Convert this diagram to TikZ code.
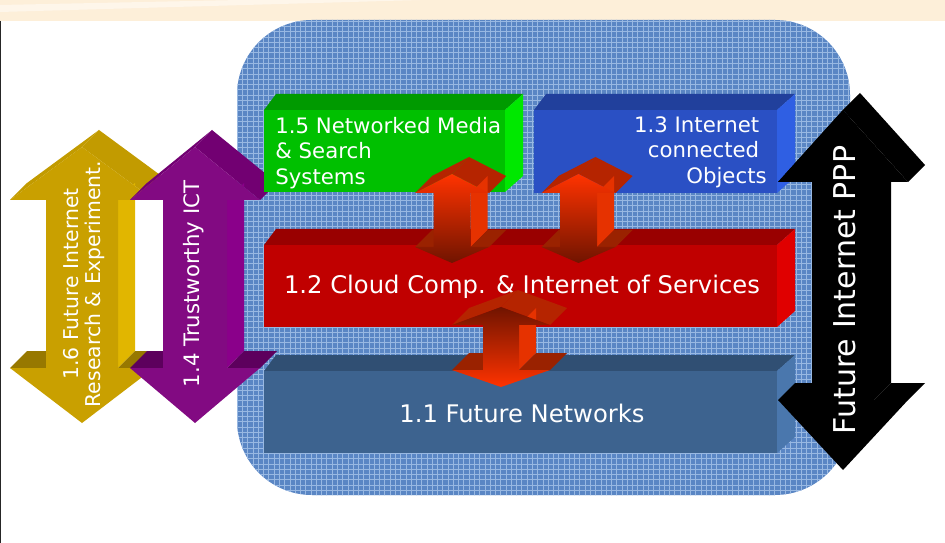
\documentclass[tikz,border=0pt]{standalone}
\usepackage{fontspec}
\setmainfont{DejaVu Sans}
\usepackage{tikz}
\usetikzlibrary{patterns}
\usepackage{xcolor}

% 色
\definecolor{stripCol}{HTML}{FDEFD9}
\definecolor{stripLight}{HTML}{FEF6EA}
\definecolor{bgBlue}{HTML}{5A86C4}
\definecolor{bgLight}{HTML}{98B8E2}
\definecolor{grnFront}{HTML}{00C000}
\definecolor{grnTop}{HTML}{009A00}
\definecolor{grnSide}{HTML}{00E800}
\definecolor{bluFront}{HTML}{2A50C4}
\definecolor{bluTop}{HTML}{21409C}
\definecolor{bluSide}{HTML}{2F5FE3}
\definecolor{redFront}{HTML}{C00000}
\definecolor{redTop}{HTML}{990000}
\definecolor{redSide}{HTML}{E00000}
\definecolor{netFront}{HTML}{3D638F}
\definecolor{netTop}{HTML}{304F73}
\definecolor{netSide}{HTML}{4A77AD}
\definecolor{yelFront}{HTML}{C9A000}
\definecolor{yelTop}{HTML}{C29B00}
\definecolor{yelSide}{HTML}{E1B600}
\definecolor{yelDark}{HTML}{977800}
\definecolor{purFront}{HTML}{820A82}
\definecolor{purTop}{HTML}{720072}
\definecolor{purSide}{HTML}{8A008A}
\definecolor{purDark}{HTML}{5D005D}
\definecolor{blkTop}{HTML}{000000}
\definecolor{blkSide}{HTML}{000000}
\definecolor{blkDark}{HTML}{000000}
\definecolor{arrHi}{HTML}{FF3300}
\definecolor{arrLo}{HTML}{701400}
\definecolor{arrTop}{HTML}{B52400}
\definecolor{arrSide}{HTML}{E63200}
\definecolor{arrDark}{HTML}{9A2200}

% 立体の両矢印: 中心x, 先端y, 上の付け根y, 下の付け根y, 下端y, 頭の半幅, 軸の半幅, 前面, 色
\newcommand{\dblarrow}[9]{%
  \begin{scope}[shift={(#1,0)}]
    \fill[#9Top] (-#6,#3) -- (0,#2) -- (\ex,#2-\ey) -- (-#6+\ex,#3-\ey) -- cycle;
    \fill[#9Top] (0,#2) -- (#6,#3) -- (#6+\ex,#3-\ey) -- (\ex,#2-\ey) -- cycle;
    \fill[#9Side] (#7,#3) -- (#7,#4) -- (#7+\ex,#4-\ey) -- (#7+\ex,#3-\ey) -- cycle;
    \fill[#9Dark] (#7,#4) -- (#6,#4) -- (#6+\ex,#4-\ey) -- (#7+\ex,#4-\ey) -- cycle;
    \fill[#9Dark] (-#6,#4) -- (-#7,#4) -- (-#7+\ex,#4-\ey) -- (-#6+\ex,#4-\ey) -- cycle;
    \path[#8] (0,#2) -- (#6,#3) -- (#7,#3) -- (#7,#4) -- (#6,#4) -- (0,#5)
      -- (-#6,#4) -- (-#7,#4) -- (-#7,#3) -- (-#6,#3) -- cycle;
  \end{scope}
}

% 立体の箱: 左上x, 上y, 右x, 下y, 色
\newcommand{\slab}[5]{%
  \fill[#5Top] (#1,#2) -- (#1+12,#2-16) -- (#3+18,#2-16) -- (#3,#2) -- cycle;
  \fill[#5Side] (#3,#2) -- (#3+18,#2-16) -- (#3+18,#4-16) -- (#3,#4) -- cycle;
  \fill[#5Front] (#1,#2) rectangle (#3,#4);
}

\tikzset{
  lbl/.style={text=white,inner sep=0pt,font=\fontsize{12.1}{14.5}\selectfont},
  big lbl/.style={lbl,font=\fontsize{13.8}{16}\selectfont},
  side lbl/.style={lbl,rotate=90,align=center,font=\fontsize{11.6}{12.5}\selectfont}
}

\begin{document}
\begin{tikzpicture}[x=0.02cm,y=-0.02cm]
  \def\ex{17} % 奥行き
  \def\ey{17}
  \useasboundingbox (0,0) rectangle (945,543);

  % 上の帯と枠
  \fill[stripCol] (0,0) rectangle (945,21);
  \fill[stripLight] (0,5) -- (240,0) -- (420,0) -- (0,12) -- cycle;
  \draw[line width=0.6pt,black!85] (0.5,21) -- (0.5,543);

  % 背景
  \fill[bgBlue,rounded corners=1.5cm] (237,20) rectangle (850,495);
  \fill[pattern=grid,pattern color=bgLight,rounded corners=1.5cm] (237,20) rectangle (850,495);

  % 左の矢印
  \dblarrow{82}{147}{200}{368}{423}{72}{36}{fill=yelFront}{yel}
  \node[side lbl] (fire) at (84,284) {1.6 Future Internet\\Research \& Experiment.};
  \dblarrow{195}{147}{200}{368}{423}{65}{32}{fill=purFront}{pur}
  \node[side lbl,font=\fontsize{12.1}{12.5}\selectfont] (trust) at (194,284) {1.4 Trustworthy ICT};

  % 箱
  \slab{264}{110}{505}{192}{grn}
  \node[lbl,anchor=west,align=left] (media) at (275,153) {1.5 Networked Media\\\& Search\\Systems};
  \slab{534}{110}{777}{193}{blu}
  \node[lbl,anchor=east,align=right] (objects) at (767,152)
    {1.3 Internet\rule{0.15cm}{0pt}\\connected\rule{0.15cm}{0pt}\\Objects};
  \slab{264}{245}{777}{327}{red}
  \node[big lbl] (cloud) at (522,287) {1.2 Cloud Comp. \& Internet of Services};
  \slab{264}{371}{777}{453}{net}
  \node[big lbl] (networks) at (522,413) {1.1 Future Networks};

  % 赤い矢印
  \dblarrow{452}{174}{193}{247}{263}{37}{18.5}{top color=arrHi,bottom color=arrLo}{arr}
  \dblarrow{578.5}{174}{193}{247}{263}{37}{18.5}{top color=arrHi,bottom color=arrLo}{arr}
  \dblarrow{501}{307}{325}{370}{387}{49}{18}{top color=arrLo,bottom color=arrHi}{arr}

  % 右の矢印
  \dblarrow{843}{110}{182}{400}{470}{65}{31}{fill=black}{blk}
  \node[lbl,rotate=90,font=\fontsize{17.1}{19}\selectfont] (ppp) at (845,290) {Future Internet PPP};
\end{tikzpicture}
\end{document}
